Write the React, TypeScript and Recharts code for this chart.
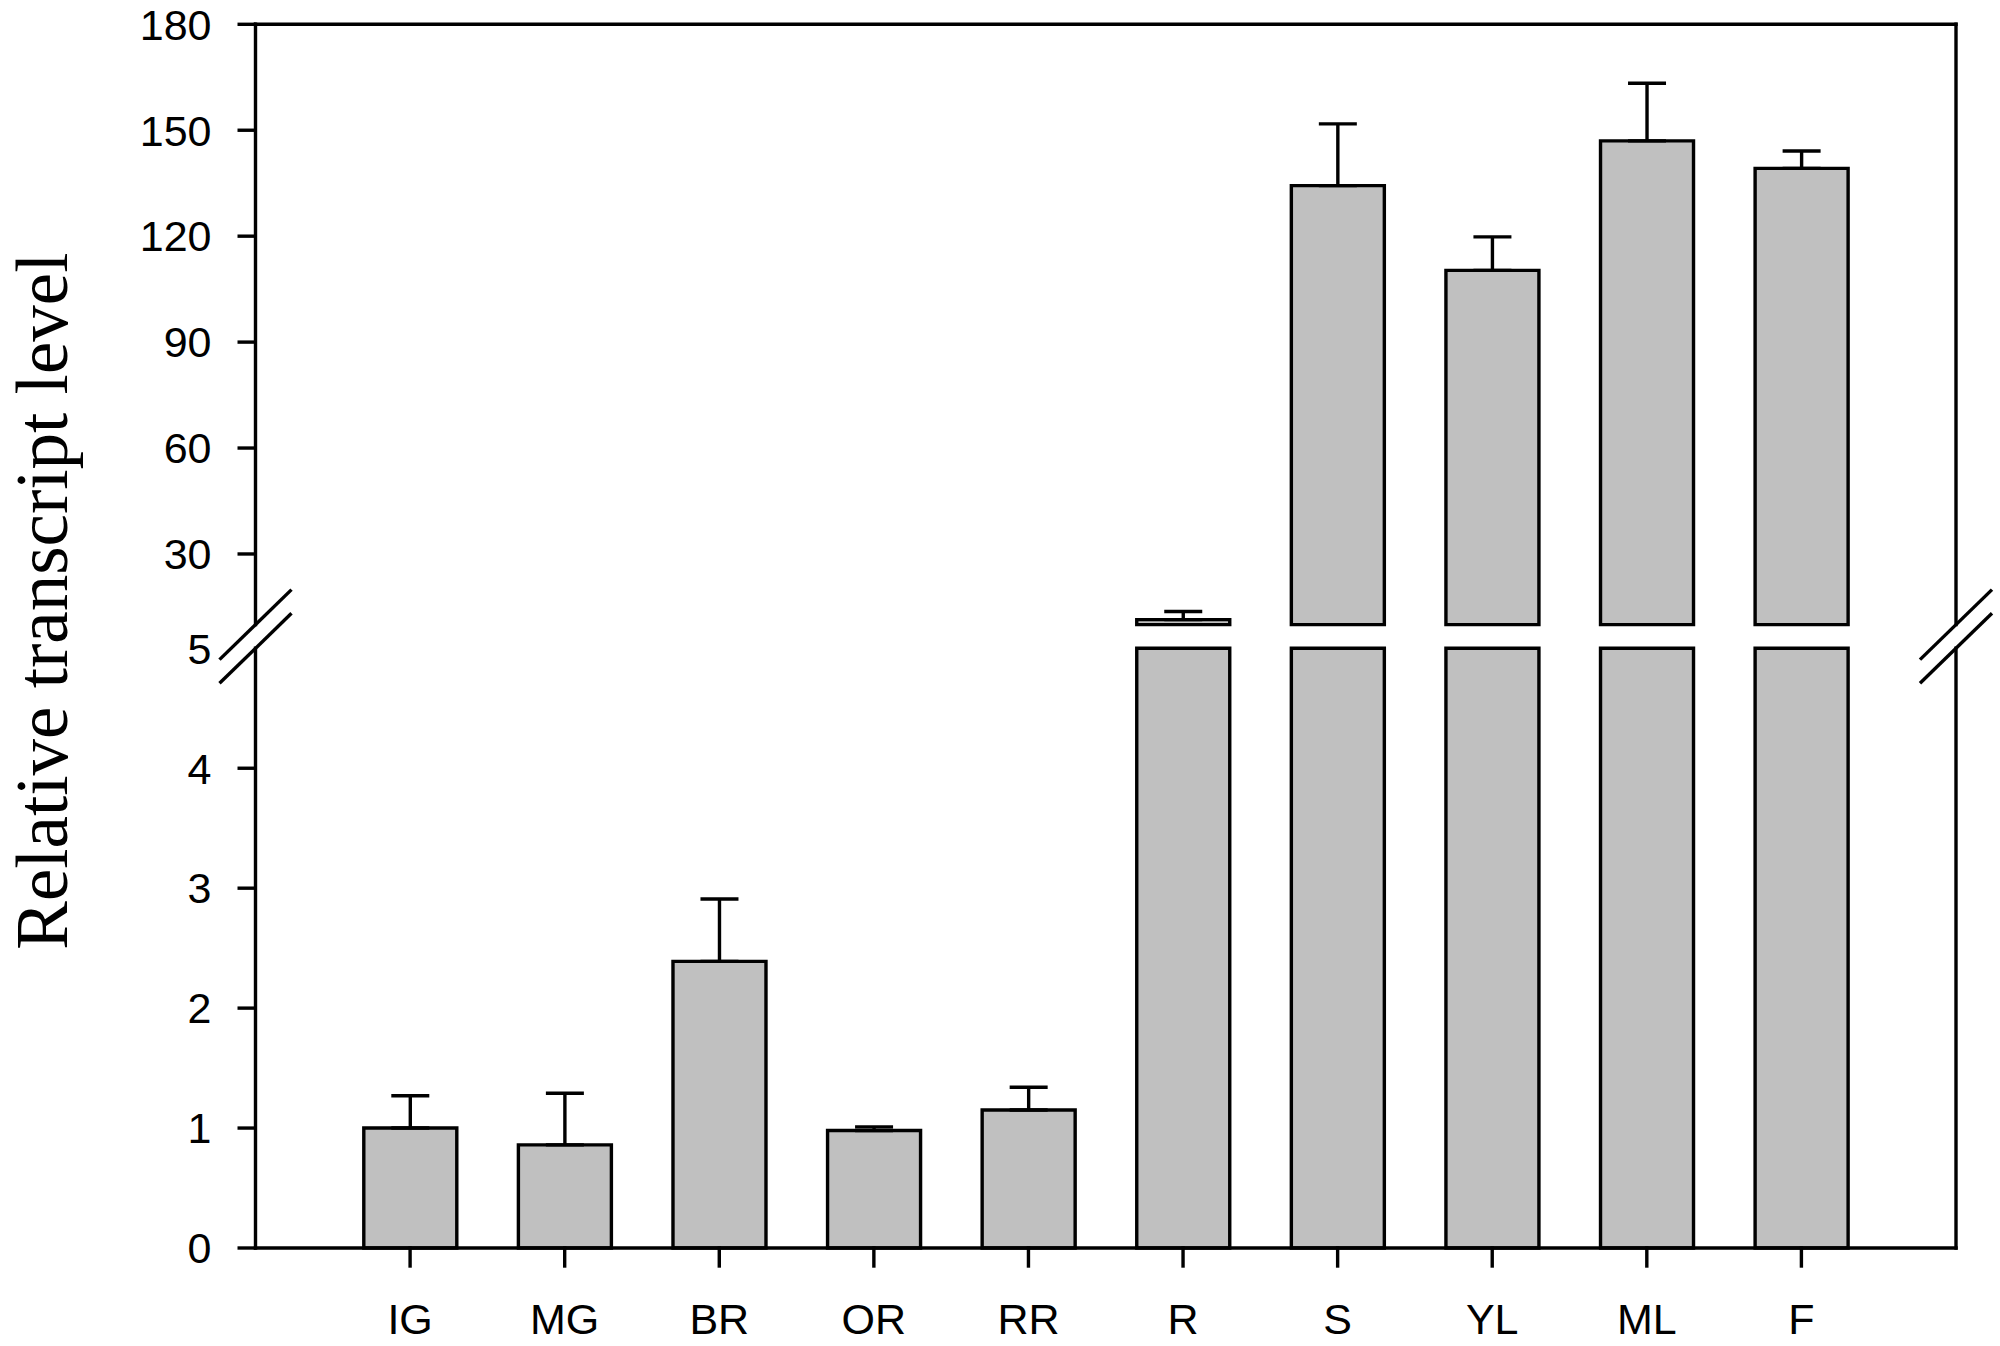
import React from 'react';
import { BarChart, Bar, XAxis, YAxis, ErrorBar, ReferenceLine } from 'recharts';

// tissues / organs
const categories = ['IG', 'MG', 'BR', 'OR', 'RR', 'R', 'S', 'YL', 'ML', 'F'];
const means = [1.0, 0.86, 2.39, 0.98, 1.15, 11.4, 134.3, 110.3, 147.0, 139.2];
const errors = [0.27, 0.43, 0.52, 0.03, 0.19, 2.3, 17.5, 9.5, 16.3, 4.9];

const lowerTicks = [0, 1, 2, 3, 4, 5];
const upperTicks = [30, 60, 90, 120, 150, 180];
const LOWER_MAX = 5;
const UPPER_MIN = 10;
const UPPER_MAX = 180;

// layout (px)
const W = 2000;
const H = 1346;
const PLOT_LEFT = 255.5;
const PLOT_RIGHT = 1956;
const UPPER_TOP = 24.3;
const UPPER_BOTTOM = 624.6;
const LOWER_TOP = 648.3;
const LOWER_BOTTOM = 1248;
const BAND_PAD = 77.3;

const SANS = '"Liberation Sans", Arial, sans-serif';
const SERIF = '"Liberation Serif", "Times New Roman", serif';
const FILL = '#c0c0c0';
const SW = 3.4;
const LINE = { stroke: '#000', strokeWidth: SW, strokeLinecap: 'square' as const };

const rows = categories.map((name, i) => ({
  name,
  low: Math.min(means[i], LOWER_MAX),
  lowErr: means[i] <= LOWER_MAX ? [0, errors[i]] : null,
  high: means[i] > UPPER_MIN ? means[i] : null,
  highErr: means[i] > UPPER_MIN ? [0, errors[i]] : null,
}));

function YTick(props: any) {
  const { y, payload, skipLine } = props;
  const v = payload.value;
  return (
    <g>
      {!(skipLine && v === LOWER_MAX) && (
        <line x1={PLOT_LEFT - 18} x2={PLOT_LEFT} y1={y} y2={y} stroke="#000" strokeWidth={SW} />
      )}
      <text
        x={PLOT_LEFT - 18 - 26}
        y={y}
        dy="0.355em"
        textAnchor="end"
        fontFamily={SANS}
        fontSize={43}
        fill="#000"
      >
        {v}
      </text>
    </g>
  );
}

function BreakMarks({ x }: { x: number }) {
  return (
    <g stroke="#000" strokeWidth={SW}>
      <line x1={x - 36} y1={UPPER_BOTTOM + 35} x2={x + 36} y2={UPPER_BOTTOM - 35} />
      <line x1={x - 36} y1={LOWER_TOP + 35} x2={x + 36} y2={LOWER_TOP - 35} />
    </g>
  );
}

export default function App() {
  const abs: React.CSSProperties = { position: 'absolute', left: 0, top: 0 };
  return (
    <div style={{ position: 'absolute', left: 0, top: 0, width: W, height: H, background: '#fff' }}>
      {/* upper panel: 10 - 180 */}
      <div style={abs}>
        <BarChart
          width={W}
          height={H}
          data={rows}
          margin={{ top: UPPER_TOP, right: 0, bottom: H - UPPER_BOTTOM, left: 0 }}
        >
          <XAxis dataKey="name" hide padding={{ left: BAND_PAD, right: BAND_PAD }} />
          <YAxis
            width={PLOT_LEFT}
            domain={[UPPER_MIN, UPPER_MAX]}
            ticks={upperTicks}
            interval={0}
            tickLine={false}
            axisLine={LINE}
            tick={<YTick />}
          />
          <YAxis yAxisId="r" orientation="right" width={W - PLOT_RIGHT} tick={false} tickLine={false} axisLine={LINE} />
          <ReferenceLine y={UPPER_MAX} stroke="#000" strokeWidth={SW} strokeLinecap="square" ifOverflow="visible" />
          <Bar dataKey="high" fill={FILL} stroke="#000" strokeWidth={SW} barSize={93} isAnimationActive={false}>
            <ErrorBar dataKey="highErr" direction="y" width={19} stroke="#000" strokeWidth={SW} isAnimationActive={false} />
          </Bar>
        </BarChart>
      </div>

      {/* lower panel: 0 - 5 */}
      <div style={abs}>
        <BarChart
          width={W}
          height={H}
          data={rows}
          margin={{ top: LOWER_TOP, right: 0, bottom: 0, left: 0 }}
        >
          <XAxis
            dataKey="name"
            height={H - LOWER_BOTTOM}
            interval={0}
            tickSize={18}
            tickMargin={37}
            tickLine={LINE}
            axisLine={LINE}
            tick={{ fill: '#000', fontSize: 43, fontFamily: SANS }}
            padding={{ left: BAND_PAD, right: BAND_PAD }}
          />
          <YAxis
            width={PLOT_LEFT}
            domain={[0, LOWER_MAX]}
            ticks={lowerTicks}
            interval={0}
            tickLine={false}
            axisLine={LINE}
            tick={<YTick skipLine />}
          />
          <YAxis yAxisId="r" orientation="right" width={W - PLOT_RIGHT} tick={false} tickLine={false} axisLine={LINE} />
          <Bar dataKey="low" fill={FILL} stroke="#000" strokeWidth={SW} barSize={93} isAnimationActive={false}>
            <ErrorBar dataKey="lowErr" direction="y" width={19} stroke="#000" strokeWidth={SW} isAnimationActive={false} />
          </Bar>
        </BarChart>
      </div>

      {/* axis breaks and y-axis title */}
      <svg width={W} height={H} style={{ ...abs, pointerEvents: 'none' }}>
        <BreakMarks x={PLOT_LEFT} />
        <BreakMarks x={PLOT_RIGHT} />
        <text
          transform={`translate(67, ${(UPPER_TOP + LOWER_BOTTOM) / 2 - 35}) rotate(-90)`}
          textAnchor="middle"
          fontFamily={SERIF}
          fontSize={73}
          fill="#000"
        >
          Relative transcript level
        </text>
      </svg>
    </div>
  );
}
